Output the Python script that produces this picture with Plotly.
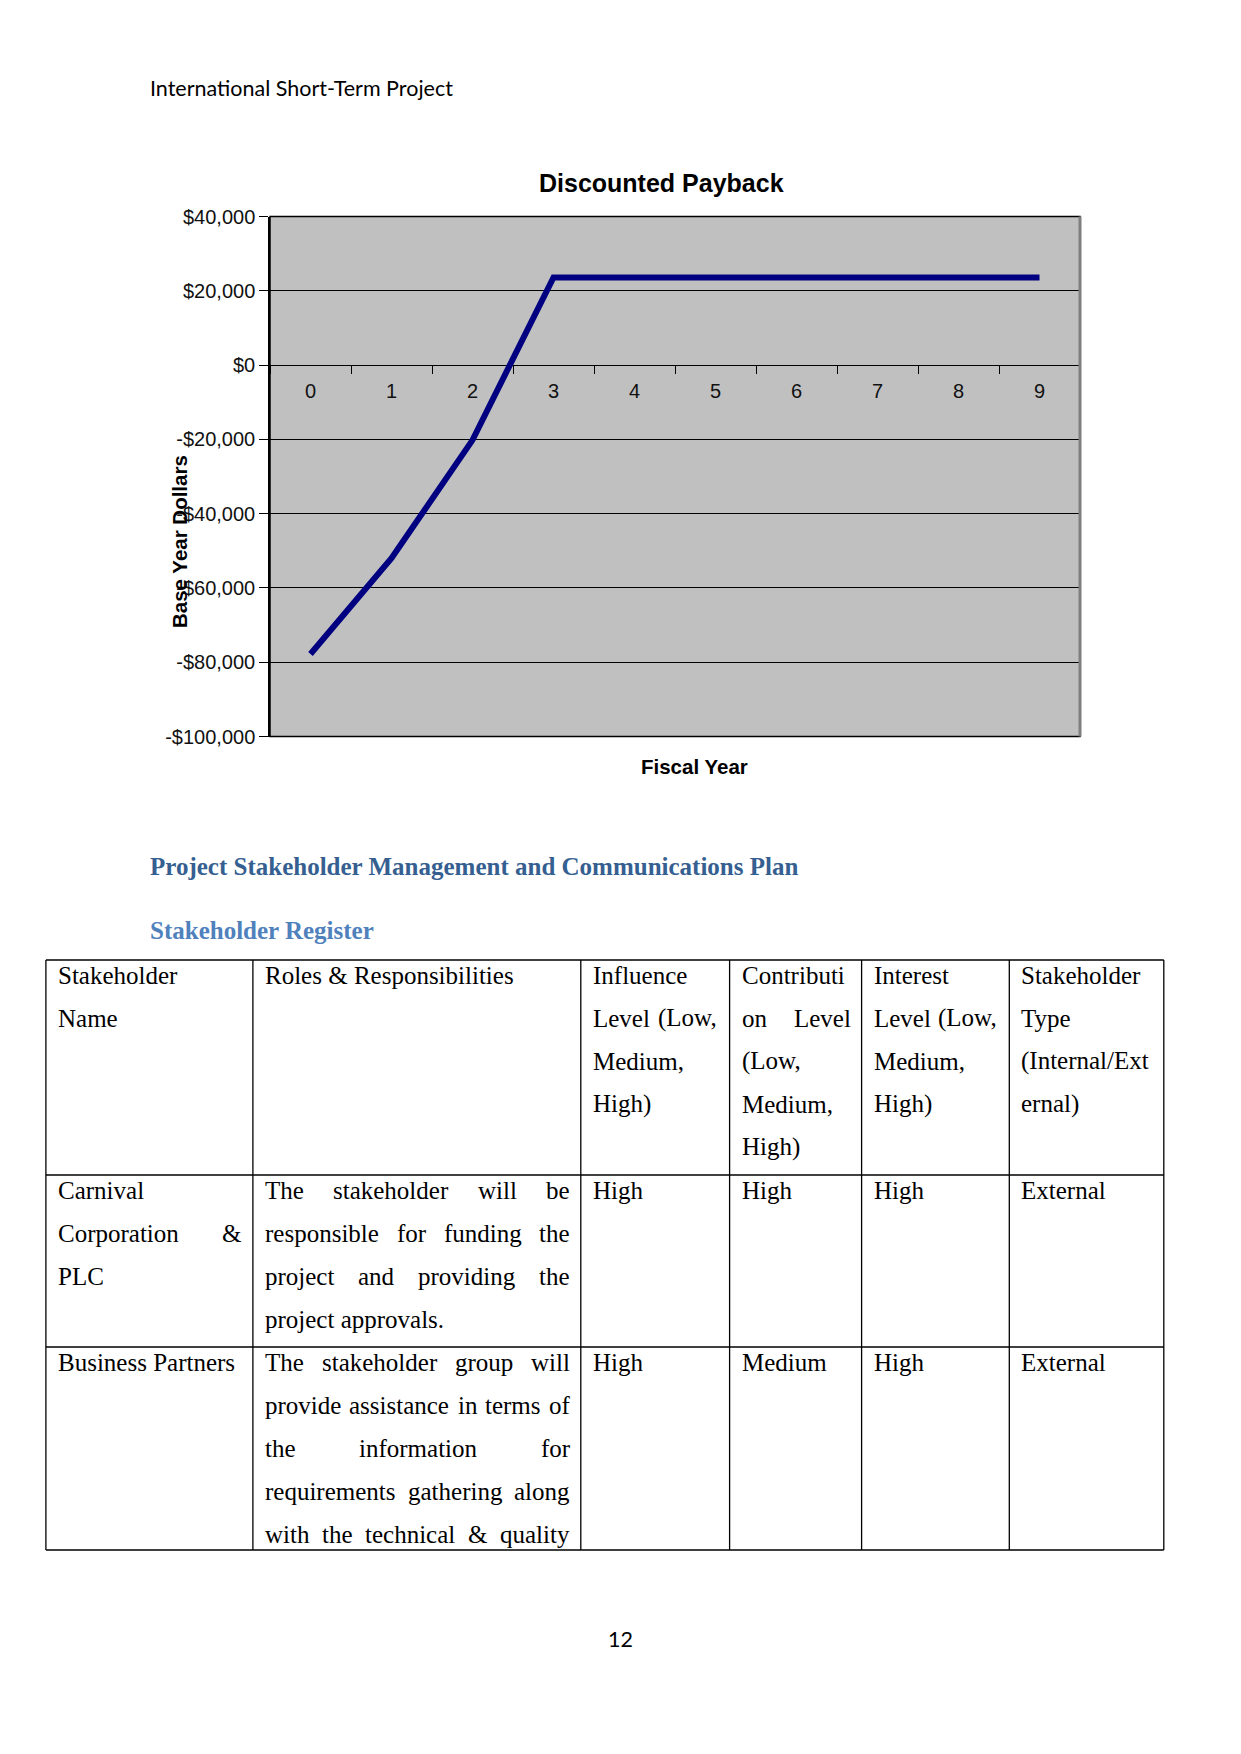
import plotly.graph_objects as go

W, H = 1241, 1754

# ---------------- data ----------------
fiscal_years = ['0', '1', '2', '3', '4', '5', '6', '7', '8', '9']
discounted_cumulative = [-77800, -52000, -20200, 23600, 23600, 23600, 23600, 23600, 23600, 23600]
y_range = [-100000, 40000]
y_tick_values = [40000, 20000, 0, -20000, -40000, -60000, -80000, -100000]

chart_title = 'Discounted Payback'
x_title = 'Fiscal Year'
y_title = 'Base Year Dollars'

page_header = 'International Short-Term Project'
heading_1 = 'Project Stakeholder Management and Communications Plan'
heading_2 = 'Stakeholder Register'
page_number = '12'

# table cells: list of (line text, justified?)
header_cells = [
    [('Stakeholder', False), ('Name', False)],
    [('Roles & Responsibilities', False)],
    [('Influence', False), ('Level (Low,', True), ('Medium,', False), ('High)', False)],
    [('Contributi', False), ('on Level', True), ('(Low,', False), ('Medium,', False), ('High)', False)],
    [('Interest', False), ('Level (Low,', True), ('Medium,', False), ('High)', False)],
    [('Stakeholder', False), ('Type', False), ('(Internal/Ext', False), ('ernal)', False)],
]
row1_cells = [
    [('Carnival', False), ('Corporation &', True), ('PLC', False)],
    [('The stakeholder will be', True), ('responsible for funding the', True),
     ('project and providing the', True), ('project approvals.', False)],
    [('High', False)],
    [('High', False)],
    [('High', False)],
    [('External', False)],
]
row2_cells = [
    [('Business Partners', False)],
    [('The stakeholder group will', True), ('provide assistance in terms of', True),
     ('the information for', True), ('requirements gathering along', True),
     ('with the technical & quality', True)],
    [('High', False)],
    [('Medium', False)],
    [('High', False)],
    [('External', False)],
]
table_rows = [header_cells, row1_cells, row2_cells]


def money(v):
    return ('-' if v < 0 else '') + '${:,.0f}'.format(abs(v))


y_tick_text = [money(v) for v in y_tick_values]

# ---------------- layout helpers ----------------
OFF = 8  # page body margin of the html page


def X(px):
    return (px - OFF) / W


def Y(py):
    return 1 - (py - OFF) / H


plot_l, plot_r, plot_t, plot_b = 270, 1080, 216.5, 736.5
x_dom = [X(plot_l), X(plot_r)]
y_dom = [Y(plot_b), Y(plot_t)]
zero_frac = y_dom[0] + (0 - y_range[0]) / (y_range[1] - y_range[0]) * (y_dom[1] - y_dom[0])

TNR = {
    'a': 444, 'b': 500, 'c': 444, 'd': 500, 'e': 444, 'f': 333, 'g': 500, 'h': 500, 'i': 278,
    'j': 278, 'k': 500, 'l': 278, 'm': 778, 'n': 500, 'o': 500, 'p': 500, 'q': 500, 'r': 333,
    's': 389, 't': 278, 'u': 500, 'v': 500, 'w': 722, 'x': 500, 'y': 500, 'z': 444,
    'A': 722, 'B': 667, 'C': 667, 'D': 722, 'E': 611, 'F': 556, 'G': 722, 'H': 722, 'I': 333,
    'J': 389, 'K': 722, 'L': 611, 'M': 889, 'N': 722, 'O': 722, 'P': 556, 'Q': 722, 'R': 667,
    'S': 556, 'T': 611, 'U': 722, 'V': 722, 'W': 944, 'X': 722, 'Y': 722, 'Z': 611,
    ' ': 250, '&': 778, '.': 250, ',': 250, '(': 333, ')': 333, '/': 278,
}
TABLE_FONT = 25


def text_w(s, size=TABLE_FONT):
    return sum(TNR.get(c, 500) for c in s) * size / 1000.0


annotations = []


def ann(text, px, py, size, family, color='black', bold=False, xanchor='left', angle=0):
    t = f'<b>{text}</b>' if bold else text
    annotations.append(dict(
        text=t, x=X(px), y=Y(py), xref='paper', yref='paper', showarrow=False,
        xanchor=xanchor, yanchor='middle', textangle=angle, borderpad=0, borderwidth=0,
        font=dict(family=family, size=size, color=color)))


SERIF = 'Liberation Serif, Times New Roman, serif'
SANS = 'Liberation Sans, Arial, sans-serif'
CAL = 'Lato, Carlito, Calibri, sans-serif'


def place_line(text, x0, x1, py, justify):
    words = text.split(' ')
    if not justify or len(words) < 2:
        ann(text, x0, py, TABLE_FONT, SERIF)
        return
    widths = [text_w(w) for w in words]
    gap = (x1 - x0 - sum(widths)) / (len(words) - 1)
    x = x0
    for w, wd in zip(words, widths):
        ann(w, x, py, TABLE_FONT, SERIF)
        x += wd + gap


# ---------------- figure ----------------
fig = go.Figure()
fig.add_trace(go.Scatter(
    x=fiscal_years, y=discounted_cumulative, mode='lines',
    line=dict(color='#000080', width=6), showlegend=False, hoverinfo='skip'))

fig.update_layout(
    width=W, height=H, autosize=False,
    margin=dict(l=0, r=0, t=0, b=0),
    paper_bgcolor='white', plot_bgcolor='#C0C0C0',
    xaxis=dict(
        type='category', categoryorder='array', categoryarray=fiscal_years,
        range=[-0.5, len(fiscal_years) - 0.5], domain=x_dom,
        anchor='free', position=zero_frac, side='bottom',
        showgrid=False, zeroline=False, showline=False,
        ticks='outside', tickson='boundaries', ticklen=8, tickcolor='black', tickwidth=1,
        tickfont=dict(family=SANS, size=20, color='#111'),
        ticklabelstandoff=12, automargin=False, fixedrange=True),
    yaxis=dict(
        range=y_range, domain=y_dom, tickmode='array',
        tickvals=y_tick_values, ticktext=y_tick_text,
        showgrid=True, gridcolor='black', gridwidth=1, zeroline=False,
        showline=True, linecolor='black', linewidth=1.5,
        ticks='outside', ticklen=9, tickcolor='black', tickwidth=1,
        tickfont=dict(family=SANS, size=20, color='#111'),
        ticklabelstandoff=0, automargin=False, fixedrange=True),
)

shapes = []
# plot frame
shapes.append(dict(type='rect', xref='paper', yref='paper', x0=x_dom[0], x1=x_dom[1],
                   y0=y_dom[0], y1=y_dom[1], line=dict(color='black', width=1.5), layer='above'))
shapes.append(dict(type='line', xref='paper', yref='paper', x0=X(plot_r), x1=X(plot_r),
                   y0=y_dom[0], y1=y_dom[1], line=dict(color='#7f7f7f', width=3), layer='above'))

# chart texts
ann(chart_title, 661, 183, 25, SANS, bold=True, xanchor='center')
ann(x_title, 694, 766, 20.5, SANS, bold=True, xanchor='center')
ann(y_title, 180, 542, 20.5, SANS, bold=True, xanchor='center', angle=-90)

# page texts
ann(page_header, 150, 88, 21.5, CAL)
ann(heading_1, 150, 867, 25, SERIF, color='#365F91', bold=True)
ann(heading_2, 150, 931, 25, SERIF, color='#4F81BD', bold=True)
ann(page_number, 620, 1639, 21.5, CAL, xanchor='center')

# table geometry
col_x = [45.9, 252.9, 580.8, 729.6, 861.6, 1009.3, 1163.8]
row_y = [960, 1175, 1347, 1550]
pad_l, pad_r = 12, 11
first_off, pitch = 15.3, 43.0

for xx in col_x:
    shapes.append(dict(type='line', xref='paper', yref='paper', x0=X(xx), x1=X(xx),
                       y0=Y(row_y[0]), y1=Y(row_y[-1]), line=dict(color='black', width=1.3)))
for yy in row_y:
    shapes.append(dict(type='line', xref='paper', yref='paper', x0=X(col_x[0]), x1=X(col_x[-1]),
                       y0=Y(yy), y1=Y(yy), line=dict(color='black', width=1.3)))

for r, row in enumerate(table_rows):
    for c, cell in enumerate(row):
        x0 = col_x[c] + pad_l
        x1 = col_x[c + 1] - pad_r
        for k, (line, just) in enumerate(cell):
            place_line(line, x0, x1, row_y[r] + first_off + k * pitch, just)

fig.update_layout(shapes=shapes, annotations=annotations)
fig.write_html('out.html', config={'displayModeBar': False})
